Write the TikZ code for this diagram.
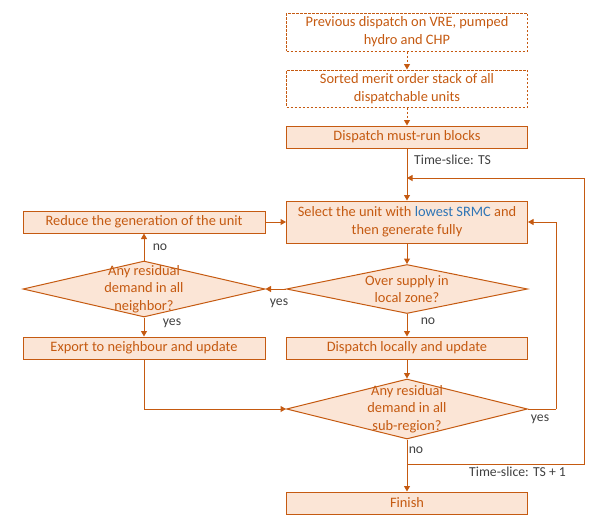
\documentclass[tikz,border=0pt]{standalone}
\usepackage{fontspec}
\setmainfont{Carlito}
\usetikzlibrary{shapes.geometric,arrows.meta}
\definecolor{orn}{HTML}{C55A11}
\definecolor{fil}{HTML}{FBE5D6}
\definecolor{blu}{HTML}{2E75B6}
\definecolor{gry}{HTML}{404040}
\tikzset{
  box/.style={draw=orn, fill=fil, line width=1pt, minimum width=241pt, inner sep=0pt, text=orn, align=center, font=\fontsize{14.4}{17.8}\selectfont},
  dbox/.style={box, fill=white, dash pattern=on 2.5pt off 1.5pt},
  dia/.style={draw=orn, fill=fil, line width=1pt, diamond, inner sep=0pt},
  dtext/.style={text=orn, align=center, font=\fontsize{14.4}{17.6}\selectfont},
  lab/.style={text=gry, font=\fontsize{13.7}{16}\selectfont, inner sep=0pt},
  arr/.style={draw=orn, line width=1pt, -{Triangle[width=6pt,length=5.5pt]}},
  ln/.style={draw=orn, line width=1pt},
  darr/.style={arr, dash pattern=on 2.5pt off 1.5pt},
}
\begin{document}
\begin{tikzpicture}[x=1pt,y=-1pt]
\useasboundingbox (0,0) rectangle (598,523);
% right column
\node[dbox, minimum height=38pt] (b1) at (407,32) {Previous dispatch on VRE, pumped\\hydro and CHP};
\node[dbox, minimum height=37pt] (b2) at (407,88.5) {Sorted merit order stack of all\\dispatchable units};
\node[box, minimum height=22pt] (b3) at (407,137) {Dispatch must-run blocks};
\node[box, minimum height=42pt] (b4) at (407,222) {Select the unit with \textcolor{blu}{lowest SRMC} and\\then generate fully};
\node[dia, minimum width=241pt, minimum height=49pt] (d1) at (407,289) {};
\node[dtext] (d1t) at (407,289) {Over supply in\\local zone?};
\node[box, minimum height=22pt] (loc) at (407,348) {Dispatch locally and update};
\node[dia, minimum width=241pt, minimum height=60pt] (d2) at (407,409) {};
\node[dtext] (d2t) at (407,409) {Any residual\\demand in all\\sub-region?};
\node[box, minimum height=22pt] (fin) at (407,503) {Finish};
% left column
\node[box, minimum width=242pt, minimum height=22pt] (red) at (144,222) {Reduce the generation of the unit};
\node[dia, minimum width=242pt, minimum height=56pt] (dl) at (144,289) {};
\node[dtext] (dlt) at (144,289) {Any residual\\demand in all\\neighbor?};
\node[box, minimum width=242pt, minimum height=22pt] (exp) at (144,348) {Export to neighbour and update};
% coordinates
\coordinate (m) at (407,178);
\coordinate (rtop) at (584,178);
\coordinate (j) at (407,464);
\coordinate (rbot) at (584,464);
\coordinate (yr) at (556,409);
% connectors
\draw[darr] (b1) -- (b2);
\draw[darr] (b2) -- (b3);
\draw[arr] (b3) -- (b4);
\draw[arr] (red) -- (b4);
\draw[arr] (b4) -- (d1);
\draw[arr] (d1.west) -- (dl.east);
\draw[arr] (dl.north) -- (red);
\draw[arr] (dl.south) -- (exp);
\draw[arr] (d1.south) -- (loc);
\draw[arr] (loc) -- (d2.north);
\draw[arr] (exp.south) |- (d2.west);
\draw[ln] (d2.east) -- (yr);
\draw[arr] (yr) |- (b4.east);
\draw[arr] (d2.south) -- (fin);
\draw[ln] (j) -- (rbot) -- (rtop);
\draw[arr] (rtop) -- (m);
% labels
\node[lab, anchor=west] (l1) at (414,160) {Time-slice: TS};
\node[lab] (l2) at (160,247) {no};
\node[lab] (l3) at (279,303) {yes};
\node[lab] (l4) at (172,323) {yes};
\node[lab] (l5) at (428,321) {no};
\node[lab] (l6) at (540,419) {yes};
\node[lab] (l7) at (416,450) {no};
\node[lab, anchor=west] (l8) at (469,472) {Time-slice: TS + 1};
\end{tikzpicture}
\end{document}
